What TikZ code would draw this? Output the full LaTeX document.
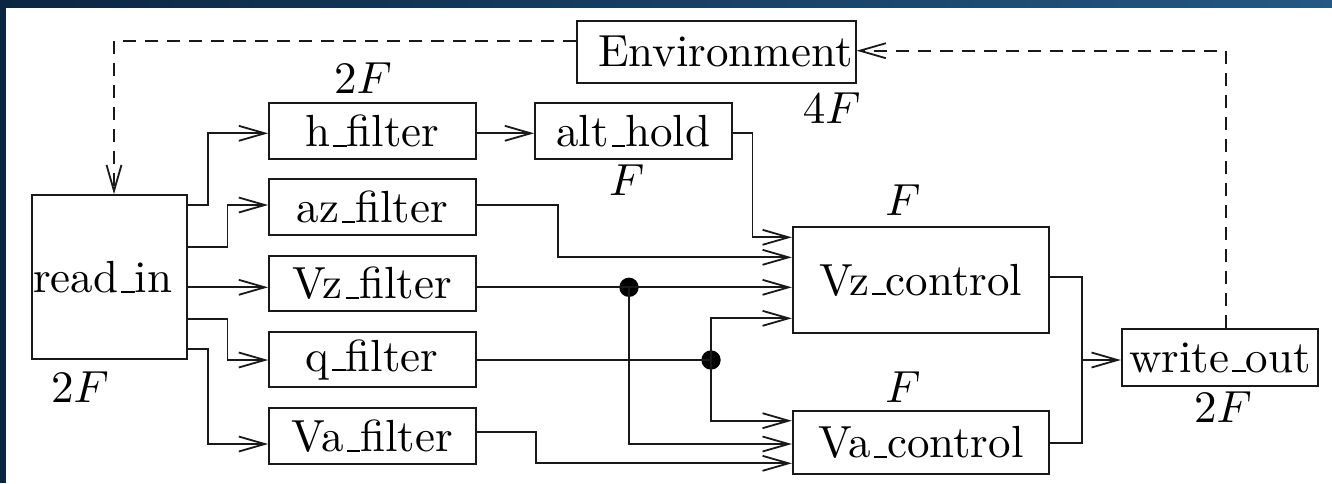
\documentclass[tikz,border=0pt]{standalone}
\usetikzlibrary{arrows.meta,calc}
\definecolor{navyL}{RGB}{10,38,66}
\definecolor{navyR}{RGB}{37,88,130}
\definecolor{ink}{RGB}{25,25,25}
\newcommand{\usc}{\leavevmode\kern.06em\vbox{\hrule width.3em height .45pt}}
\begin{document}
\begin{tikzpicture}[x=0.22222pt,y=0.22222pt,
  every node/.style={font=\normalsize, text=black},
  blk/.style={draw=ink, line width=0.4pt, inner sep=0pt, minimum height=12.38pt, minimum width=45.93pt},
  conn/.style={draw=ink, line width=0.4pt},
  arr/.style={conn, -{Straight Barb[length=5.78pt,width=3.33pt]}},
  dsh/.style={arr, dash pattern=on 2.89pt off 2pt},
  lbl/.style={inner sep=0pt},
  dotn/.style={circle, fill=black, minimum size=4.3pt, inner sep=0pt}]
% background
\fill[white] (0,0) rectangle (1332,-483);
\shade[left color=navyL, right color=navyR] (0,0) rectangle (1332,-7.3);
\fill[navyL] (0,0) rectangle (6,-483);
\useasboundingbox (0,0) rectangle (1332,-483);
% nodes
\node[blk, minimum width=34.44pt, minimum height=36.51pt, text width=34pt, align=left] (readin) at (109.8,-277.2) {read\usc in};
\node[blk] (hf)  at (372.3,-131.2) {h\usc filter};
\node[blk] (azf) at (372.3,-207.2) {az\usc filter};
\node[blk] (vzf) at (372.3,-283.5) {Vz\usc filter};
\node[blk] (qf)  at (372.3,-359.5) {q\usc filter};
\node[blk] (vaf) at (372.3,-436.2) {Va\usc filter};
\node[blk, minimum width=43.71pt] (alt) at (633.3,-131.2) {alt\usc hold};
\node[blk, minimum width=62pt, minimum height=13.78pt, text width=60.67pt, align=right] (env) at (716.2,-51.7) {Environment};
\node[blk, minimum width=57.02pt, minimum height=23.56pt] (vzc) at (921,-280.3) {Vz\usc control};
\node[blk, minimum width=57.02pt, minimum height=13.93pt] (vac) at (921,-442.7) {Va\usc control};
\node[blk, minimum width=43.69pt, minimum height=12.53pt] (wo) at (1220,-357.5) {write\usc out};
\node[dotn] (d1) at (629,-287.3) {};
\node[dotn] (d2) at (711,-360) {};
\coordinate (mrg) at (1081.7,-360);
% labels
\node[lbl] (l2fh) at (363,-78) {$2F$};
\node[lbl] (l4f) at (831.7,-108) {$4F$};
\node[lbl] (lfalt) at (626.7,-180) {$F$};
\node[lbl] (lfvz) at (903,-200) {$F$};
\node[lbl] (lfva) at (903,-386.7) {$F$};
\node[lbl] (l2fr) at (80,-386.7) {$2F$};
\node[lbl] (l2fw) at (1223,-406.7) {$2F$};
% connectors
\draw[arr] ($(readin.east)+(0,72.2)$) -- ++(20,0) |- ($(hf.west)+(0,-2.1)$);
\draw[arr] ($(readin.east)+(0,29.9)$) -- ++(39.4,0) |- ($(azf.west)+(0,2.2)$);
\draw[arr] ($(readin.east)+(0,-10.1)$) -- ($(vzf.west)+(0,-3.8)$);
\draw[arr] ($(readin.east)+(0,-42.1)$) -- ++(39.4,0) |- ($(qf.west)+(0,-0.5)$);
\draw[arr] ($(readin.east)+(0,-72.1)$) -- ++(20,0) |- ($(vaf.west)+(0,-7.8)$);
\draw[arr] ($(hf.east)+(0,-2.1)$) -- ($(alt.west)+(0,-2.1)$);
\draw[arr] ($(azf.east)+(0,2.2)$) -- ++(81.6,0) |- ($(vzc.west)+(0,23)$);
\draw[arr] ($(alt.east)+(0,-2.1)$) -- ++(20,0) |- ($(vzc.west)+(0,43)$);
\draw[conn] ($(vzf.east)+(0,-3.8)$) -- (d1.center);
\draw[arr] (d1.center) -- ($(vzc.west)+(0,-7)$);
\draw[arr] (d1.center) |- ($(vac.west)+(0,-1.3)$);
\draw[conn] ($(qf.east)+(0,-0.5)$) -- (d2.center);
\draw[arr] (d2.center) |- ($(vzc.west)+(0,-38)$);
\draw[arr] (d2.center) |- ($(vac.west)+(0,22)$);
\draw[arr] ($(vaf.east)+(0,4.5)$) -- ++(59.3,0) |- ($(vac.west)+(0,-20.6)$);
\draw[conn] ($(vzc.east)+(0,3)$) -| (mrg);
\draw[conn] ($(vac.east)+(0,-0.6)$) -| (mrg);
\draw[arr] (mrg) -- ($(wo.west)+(0,-2.5)$);
\draw[dsh] ($(wo.north)+(5.7,0)$) |- ($(env.east)+(0,1)$);
\draw[dsh] ($(env.west)+(0,11)$) -| ($(readin.north)+(4.2,0)$);
\end{tikzpicture}
\end{document}
